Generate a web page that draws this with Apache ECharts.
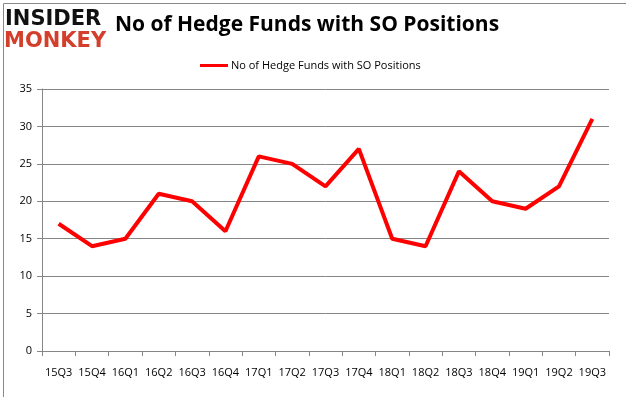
<!DOCTYPE html>
<html>
<head>
<meta charset="utf-8">
<script src="https://cdn.jsdelivr.net/npm/echarts@6/dist/echarts.min.js"></script>
<style>
  html, body { margin: 0; padding: 0; background: #fff; }
  #chart { width: 626px; height: 397px; }
</style>
</head>
<body>
<div id="chart"></div>
<script>
var quarters = ['15Q3','15Q4','16Q1','16Q2','16Q3','16Q4','17Q1','17Q2','17Q3','17Q4',
                '18Q1','18Q2','18Q3','18Q4','19Q1','19Q2','19Q3'];
var fundCounts = [17, 14, 15, 21, 20, 16, 26, 25, 22, 27, 15, 14, 24, 20, 19, 22, 31];
var seriesName = 'No of Hedge Funds with SO Positions';

var chart = echarts.init(document.getElementById('chart'), null, { renderer: 'canvas' });

chart.setOption({
    animation: false,
    backgroundColor: '#fff',
    textStyle: { fontFamily: 'Open Sans, DejaVu Sans, sans-serif' },
    title: {
        text: 'No of Hedge Funds with SO Positions',
        left: 302, top: 10, textAlign: 'center',
        textStyle: { fontSize: 21, fontWeight: 'bold', color: '#000', fontFamily: 'Open Sans' }
    },
    legend: {
        data: [seriesName],
        top: 55, left: 195,
        itemWidth: 28, itemHeight: 3, itemGap: 4,
        icon: 'rect',
        textStyle: { fontSize: 11, color: '#000', padding: [0, 0, 0, -2] }
    },
    graphic: [
        { type: 'rect', left: 1, top: 1, shape: { width: 623, height: 394 },
          style: { fill: 'none', stroke: '#888', lineWidth: 1 } },
        { type: 'text', left: 5, top: 9,
          style: { text: 'INSIDER', fill: '#111', font: 'bold 21px DejaVu Sans' } },
        { type: 'text', left: 4, top: 31,
          style: { text: 'MONKEY', fill: '#d33f2a', font: 'bold 21px DejaVu Sans' } }
    ],
    grid: { left: 42, right: 17, top: 89, bottom: 46 },
    xAxis: {
        type: 'category',
        data: quarters,
        boundaryGap: true,
        axisLine: { lineStyle: { color: '#868686' } },
        axisTick: { show: true, alignWithLabel: false, length: 5, lineStyle: { color: '#868686' } },
        axisLabel: { color: '#000', fontSize: 11, margin: 16, interval: 0 }
    },
    yAxis: {
        type: 'value',
        min: 0, max: 35, interval: 5,
        axisLine: { show: true, lineStyle: { color: '#868686' } },
        axisTick: { show: true, length: 5, lineStyle: { color: '#868686' } },
        axisLabel: { color: '#000', fontSize: 11, margin: 10 },
        splitLine: { lineStyle: { color: '#868686' } }
    },
    series: [{
        name: seriesName,
        type: 'line',
        data: fundCounts,
        symbol: 'none',
        lineStyle: { color: '#ff0000', width: 4 },
        itemStyle: { color: '#ff0000' }
    }]
});
</script>
</body>
</html>
